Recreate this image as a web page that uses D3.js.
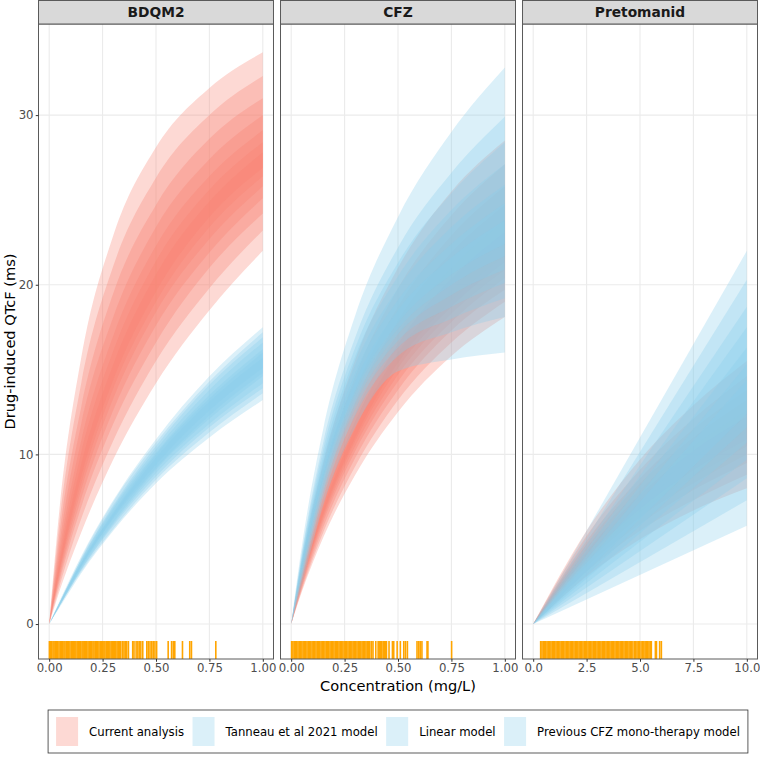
<!DOCTYPE html>
<html>
<head>
<meta charset="utf-8">
<script src="https://cdn.jsdelivr.net/npm/d3@7"></script>
<style>
  body { margin: 0; background: #fff; }
  svg { display: block; font-family: "DejaVu Sans", sans-serif; }
</style>
</head>
<body>
<div id="chart"></div>
<script>
const ancho = 760;
const alto = 759;
const panelTop = 24;
const panelBottom = 659;
const stripTop = 0.5;
const alpha = 0.3;

// ---------------- datos ----------------
const panelNames = ["BDQM2", "CFZ", "Pretomanid"];
const referenceModel = ["Tanneau et al 2021 model", "Previous CFZ mono-therapy model", "Linear model"];
const legendLabels = ["Current analysis", "Tanneau et al 2021 model", "Linear model", "Previous CFZ mono-therapy model"];
const legendColours = ["#FA8072", "#87CEEB", "#87CEEB", "#87CEEB"];
const yTicks = [0, 10, 20, 30];
const yDomain = [-2.06, 35.37];
const xTicksMgL = [0, 0.25, 0.5, 0.75, 1];
const xTicksPa = [0, 2.5, 5, 7.5, 10];

// BDQM2
const bdqX = [0, 0.05, 0.15, 0.3, 0.5, 0.75, 1];
const bdqCurrentLower = [
  [0, 2.0, 5.4, 9.7, 14.2, 18.5, 22.0],
  [0, 2.3, 6.2, 10.8, 15.5, 19.8, 23.2],
  [0, 2.6, 6.9, 11.8, 16.6, 21.0, 24.2],
  [0, 2.8, 7.4, 12.6, 17.6, 21.9, 25.1],
  [0, 3.0, 7.9, 13.3, 18.4, 22.7, 25.8],
  [0, 3.2, 8.3, 13.9, 19.0, 23.4, 26.4],
  [0, 3.3, 8.7, 14.4, 19.6, 24.0, 26.9],
];
const bdqCurrentUpper = [
  [0, 7.0, 15.7, 22.9, 28.1, 31.6, 33.7],
  [0, 6.2, 14.2, 21.1, 26.3, 30.0, 32.3],
  [0, 5.5, 12.8, 19.5, 24.7, 28.6, 31.0],
  [0, 4.9, 11.8, 18.1, 23.4, 27.4, 30.0],
  [0, 4.4, 10.8, 17.0, 22.3, 26.4, 29.1],
  [0, 4.0, 10.1, 16.1, 21.4, 25.6, 28.4],
  [0, 3.7, 9.4, 15.3, 20.6, 24.9, 27.8],
];
const bdqTanneauLower = [
  [0, 1.0, 3.0, 5.5, 8.3, 11.0, 13.2],
  [0, 1.1, 3.1, 5.6, 8.5, 11.3, 13.6],
  [0, 1.1, 3.2, 5.8, 8.7, 11.6, 13.9],
  [0, 1.1, 3.2, 5.9, 8.9, 11.8, 14.2],
  [0, 1.1, 3.3, 6.0, 9.1, 12.1, 14.6],
  [0, 1.15, 3.4, 6.2, 9.2, 12.3, 14.8],
  [0, 1.2, 3.4, 6.3, 9.4, 12.6, 15.1],
];
const bdqTanneauUpper = [
  [0, 1.4, 4.0, 7.3, 10.9, 14.6, 17.5],
  [0, 1.3, 3.9, 7.2, 10.7, 14.3, 17.2],
  [0, 1.3, 3.8, 7.0, 10.5, 14.1, 16.9],
  [0, 1.3, 3.8, 6.9, 10.3, 13.8, 16.6],
  [0, 1.3, 3.7, 6.8, 10.1, 13.5, 16.2],
  [0, 1.25, 3.6, 6.6, 10.0, 13.3, 16.0],
  [0, 1.2, 3.6, 6.5, 9.8, 13.1, 15.7],
];

// CFZ
const cfzX = [0, 0.05, 0.15, 0.3, 0.5, 0.75, 1];
const cfzCurrentLower = [
  [0, 1.9, 5.1, 8.8, 12.5, 15.8, 18.1],
  [0, 2.0, 5.4, 9.3, 13.2, 16.6, 19.0],
  [0, 2.1, 5.7, 9.8, 13.8, 17.3, 19.7],
  [0, 2.2, 6.0, 10.2, 14.3, 17.8, 20.4],
  [0, 2.3, 6.2, 10.5, 14.7, 18.3, 20.9],
  [0, 2.4, 6.35, 10.8, 15.1, 18.7, 21.35],
  [0, 2.45, 6.5, 11.0, 15.4, 19.05, 21.7],
];
const cfzCurrentUpper = [
  [0, 3.7, 9.5, 15.6, 21.0, 25.5, 28.5],
  [0, 3.4, 8.8, 14.6, 19.8, 24.1, 27.1],
  [0, 3.2, 8.3, 13.8, 18.7, 22.9, 25.8],
  [0, 3.0, 7.8, 13.1, 17.9, 21.9, 24.7],
  [0, 2.8, 7.4, 12.4, 17.1, 21.0, 23.8],
  [0, 2.7, 7.1, 11.95, 16.5, 20.35, 23.1],
  [0, 2.6, 6.8, 11.5, 16.0, 19.7, 22.5],
];
const cfzPreviousLower = [
  [0, 2.3, 7.0, 11.6, 14.9, 15.6, 16.0],
  [0, 2.6, 7.5, 12.3, 15.8, 17.2, 18.1],
  [0, 2.8, 7.8, 12.7, 16.3, 18.0, 19.2],
  [0, 2.9, 8.0, 13.0, 16.7, 18.7, 20.1],
  [0, 3.1, 8.3, 13.3, 17.1, 19.4, 20.9],
  [0, 3.2, 8.5, 13.6, 17.4, 20.0, 21.7],
  [0, 3.3, 8.7, 13.8, 17.75, 20.6, 22.4],
];
const cfzPreviousUpper = [
  [0, 4.6, 11.5, 18.2, 24.0, 29.0, 32.8],
  [0, 4.2, 10.7, 16.9, 22.2, 26.6, 29.9],
  [0, 4.1, 10.3, 16.3, 21.3, 25.4, 28.4],
  [0, 3.9, 9.9, 15.8, 20.5, 24.4, 27.1],
  [0, 3.8, 9.6, 15.3, 19.8, 23.4, 25.9],
  [0, 3.6, 9.3, 14.8, 19.1, 22.4, 24.8],
  [0, 3.5, 9.0, 14.3, 18.5, 21.6, 23.8],
];

// Pretomanid
const paX = [0, 2.5, 5, 7.5, 10];
const paCurrentLower = [
  [0, 2.8, 5.0, 6.7, 8.0],
  [0, 3.1, 5.5, 7.3, 8.8],
  [0, 3.4, 5.9, 7.9, 9.5],
  [0, 3.6, 6.3, 8.3, 10.0],
  [0, 3.7, 6.6, 8.7, 10.5],
  [0, 3.9, 6.8, 9.1, 10.9],
  [0, 4.0, 7.1, 9.4, 11.3],
];
const paCurrentUpper = [
  [0, 5.5, 9.7, 12.9, 15.5],
  [0, 5.2, 9.1, 12.1, 14.6],
  [0, 4.9, 8.6, 11.5, 13.8],
  [0, 4.7, 8.3, 11.0, 13.2],
  [0, 4.5, 7.9, 10.5, 12.6],
  [0, 4.3, 7.6, 10.2, 12.2],
  [0, 4.2, 7.4, 9.8, 11.8],
];
const paLinearX = [0, 10];
const paLinearLower = [[0, 5.8], [0, 7.3], [0, 8.6], [0, 9.7], [0, 10.7], [0, 11.6], [0, 12.4]];
const paLinearUpper = [[0, 22.0], [0, 20.3], [0, 18.7], [0, 17.5], [0, 16.3], [0, 15.3], [0, 14.4]];

// concentraciones observadas (rug)
const bdqRug = [0.001, 0.006, 0.012, 0.018, 0.023, 0.029, 0.035, 0.04, 0.046, 0.052, 0.057, 0.063,
  0.069, 0.074, 0.08, 0.086, 0.091, 0.097, 0.103, 0.108, 0.114, 0.12, 0.125, 0.131, 0.137, 0.142,
  0.148, 0.154, 0.159, 0.165, 0.171, 0.176, 0.182, 0.188, 0.193, 0.199, 0.205, 0.21, 0.216, 0.222,
  0.227, 0.233, 0.239, 0.244, 0.25, 0.256, 0.261, 0.267, 0.273, 0.278, 0.284, 0.29, 0.295, 0.301,
  0.307, 0.312, 0.318, 0.324, 0.329, 0.332, 0.335, 0.343, 0.35, 0.356, 0.363, 0.371, 0.391, 0.397,
  0.407, 0.415, 0.422, 0.429, 0.438, 0.457, 0.464, 0.472, 0.48, 0.487, 0.495, 0.503, 0.557, 0.573,
  0.581, 0.588, 0.624, 0.658, 0.666, 0.78];
const cfzRug = [0.002, 0.008, 0.014, 0.02, 0.026, 0.032, 0.038, 0.044, 0.05, 0.056, 0.062, 0.068,
  0.074, 0.08, 0.086, 0.092, 0.098, 0.104, 0.11, 0.116, 0.122, 0.128, 0.134, 0.14, 0.146, 0.152,
  0.158, 0.164, 0.17, 0.176, 0.182, 0.188, 0.194, 0.2, 0.206, 0.212, 0.218, 0.224, 0.23, 0.236,
  0.242, 0.248, 0.254, 0.26, 0.266, 0.272, 0.278, 0.284, 0.29, 0.296, 0.302, 0.308, 0.314, 0.32,
  0.326, 0.332, 0.338, 0.344, 0.35, 0.356, 0.362, 0.368, 0.376, 0.383, 0.396, 0.407, 0.411, 0.415,
  0.419, 0.423, 0.43, 0.434, 0.438, 0.442, 0.446, 0.458, 0.474, 0.48, 0.496, 0.511, 0.527, 0.535,
  0.544, 0.589, 0.597, 0.604, 0.612, 0.636, 0.64, 0.751];
const paRug = [0.35, 0.41, 0.47, 0.53, 0.59, 0.65, 0.71, 0.77, 0.83, 0.89, 0.95, 1.01, 1.07, 1.13,
  1.19, 1.25, 1.31, 1.37, 1.43, 1.49, 1.55, 1.61, 1.67, 1.73, 1.79, 1.85, 1.91, 1.97, 2.03, 2.09,
  2.15, 2.21, 2.27, 2.33, 2.39, 2.45, 2.51, 2.57, 2.63, 2.69, 2.75, 2.81, 2.87, 2.93, 2.99, 3.05,
  3.11, 3.17, 3.23, 3.29, 3.35, 3.41, 3.47, 3.53, 3.59, 3.65, 3.71, 3.77, 3.83, 3.89, 3.95, 4.01,
  4.07, 4.13, 4.19, 4.25, 4.31, 4.37, 4.43, 4.49, 4.55, 4.61, 4.67, 4.75, 4.8, 4.86, 4.92, 4.98,
  5.05, 5.12, 5.18, 5.24, 5.3, 5.36, 5.42, 5.48, 5.53, 5.72, 5.77, 5.92, 6.0];

// ---------------- armado ----------------
const paneles = [
  { name: panelNames[0], domain: [0, 1], ticks: xTicksMgL, fmt: d3.format(".2f"), rug: bdqRug,
    current: { x: bdqX, lower: bdqCurrentLower, upper: bdqCurrentUpper },
    reference: { x: bdqX, lower: bdqTanneauLower, upper: bdqTanneauUpper, model: referenceModel[0] } },
  { name: panelNames[1], domain: [0, 1], ticks: xTicksMgL, fmt: d3.format(".2f"), rug: cfzRug,
    current: { x: cfzX, lower: cfzCurrentLower, upper: cfzCurrentUpper },
    reference: { x: cfzX, lower: cfzPreviousLower, upper: cfzPreviousUpper, model: referenceModel[1] } },
  { name: panelNames[2], domain: [0, 10], ticks: xTicksPa, fmt: d3.format(".1f"), rug: paRug,
    current: { x: paX, lower: paCurrentLower, upper: paCurrentUpper },
    reference: { x: paLinearX, lower: paLinearLower, upper: paLinearUpper, model: referenceModel[2] } },
];

const colourScale = d3.scaleOrdinal().domain(legendLabels).range(legendColours);

const svg = d3.select("#chart").append("svg")
  .attr("width", ancho).attr("height", alto);

const band = d3.scaleBand().domain(panelNames).range([38.5, 757.5]).paddingInner(0.029);
const y = d3.scaleLinear().domain(yDomain).range([panelBottom, panelTop]);

paneles.forEach((p, i) => {
  const x0 = band(p.name);
  const w = band.bandwidth();
  const span = p.domain[1] - p.domain[0];
  const x = d3.scaleLinear()
    .domain([p.domain[0] - 0.05 * span, p.domain[1] + 0.05 * span])
    .range([x0, x0 + w]);

  const g = svg.append("g").attr("class", "panel");
  g.append("clipPath").attr("id", "clip" + i)
    .append("rect").attr("x", x0).attr("y", panelTop).attr("width", w).attr("height", panelBottom - panelTop);

  // rejilla
  g.selectAll(".vgrid").data(p.ticks).join("line")
    .attr("x1", d => x(d)).attr("x2", d => x(d))
    .attr("y1", panelTop).attr("y2", panelBottom)
    .attr("stroke", "#EBEBEB").attr("stroke-width", 1.1);
  g.selectAll(".hgrid").data(yTicks).join("line")
    .attr("x1", x0).attr("x2", x0 + w)
    .attr("y1", d => y(d)).attr("y2", d => y(d))
    .attr("stroke", "#EBEBEB").attr("stroke-width", 1.1);

  const capa = g.append("g").attr("clip-path", `url(#clip${i})`);

  const abanico = (serie, colour) => {
    serie.lower.forEach((lo, r) => {
      const hi = serie.upper[r];
      const puntos = serie.x.map((c, j) => ({ c: c, lo: lo[j], hi: hi[j] }));
      const area = d3.area()
        .x(d => x(d.c)).y0(d => y(d.lo)).y1(d => y(d.hi))
        .curve(d3.curveMonotoneX);
      capa.append("path").datum(puntos)
        .attr("d", area)
        .attr("fill", colour)
        .attr("fill-opacity", alpha);
    });
  };
  abanico(p.current, colourScale(legendLabels[0]));
  abanico(p.reference, colourScale(p.reference.model));

  // rug
  capa.selectAll(".rug").data(p.rug).join("line")
    .attr("x1", d => x(d)).attr("x2", d => x(d))
    .attr("y1", y(yDomain[0])).attr("y2", y(-1))
    .attr("stroke", "#FFA500").attr("stroke-width", 1.6);

  // borde
  g.append("rect").attr("x", x0).attr("y", panelTop).attr("width", w).attr("height", panelBottom - panelTop)
    .attr("fill", "none").attr("stroke", "#5a5a5a").attr("stroke-width", 1);

  // strip
  g.append("rect").attr("x", x0).attr("y", stripTop).attr("width", w).attr("height", panelTop - stripTop)
    .attr("fill", "#D9D9D9").attr("stroke", "#5a5a5a").attr("stroke-width", 1);
  g.append("text").attr("x", x0 + w / 2).attr("y", 17)
    .attr("text-anchor", "middle").attr("font-size", "13.8px").attr("font-weight", "bold")
    .attr("fill", "#1A1A1A").text(p.name);

  // eje x
  const ejeX = d3.axisBottom(x).tickValues(p.ticks).tickFormat(p.fmt).tickSize(2.75).tickPadding(2.2);
  const gx = svg.append("g").attr("transform", `translate(0, ${panelBottom})`).call(ejeX);
  gx.select(".domain").remove();
  gx.selectAll(".tick line").attr("stroke", "#333");
  gx.selectAll(".tick text").attr("fill", "#4D4D4D").attr("font-size", "11.7px")
    .attr("font-family", "DejaVu Sans");

  if (i === 0) {
    const ejeY = d3.axisLeft(y).tickValues(yTicks).tickSize(2.75).tickPadding(2.2);
    const gy = svg.append("g").attr("transform", `translate(${x0}, 0)`).call(ejeY);
    gy.select(".domain").remove();
    gy.selectAll(".tick line").attr("stroke", "#333");
    gy.selectAll(".tick text").attr("fill", "#4D4D4D").attr("font-size", "11.7px")
      .attr("font-family", "DejaVu Sans");
  }
});

// titulos de ejes
svg.append("text").attr("x", (38.5 + 757.5) / 2).attr("y", 691)
  .attr("text-anchor", "middle").attr("font-size", "14.6px").attr("fill", "#000")
  .text("Concentration (mg/L)");
svg.append("text")
  .attr("transform", `translate(15, ${(panelTop + panelBottom) / 2}) rotate(-90)`)
  .attr("text-anchor", "middle").attr("font-size", "14.6px").attr("fill", "#000")
  .text("Drug-induced QTcF (ms)");

// leyenda
const keyW = 22, keyH = 29, textGap = 11, itemGap = 8.5, pad = 8;
const leyenda = svg.append("g");
const caja = leyenda.append("rect");
let cursor = 0;
legendLabels.forEach((lab) => {
  const it = leyenda.append("g");
  it.append("rect").attr("x", cursor).attr("y", -keyH / 2).attr("width", keyW).attr("height", keyH)
    .attr("fill", colourScale(lab)).attr("fill-opacity", alpha);
  const t = it.append("text").attr("x", cursor + keyW + textGap).attr("y", 4.2)
    .attr("font-size", "11.7px").attr("fill", "#000").text(lab);
  cursor += keyW + textGap + t.node().getComputedTextLength() + itemGap;
});
const totalW = cursor - itemGap;
const legendCy = 731.5;
leyenda.attr("transform", `translate(${398 - totalW / 2}, ${legendCy})`);
caja.attr("x", -pad).attr("y", -keyH / 2 - 7).attr("width", totalW + 2 * pad).attr("height", keyH + 14)
  .attr("fill", "none").attr("stroke", "#333").attr("stroke-width", 0.8);
</script>
</body>
</html>
